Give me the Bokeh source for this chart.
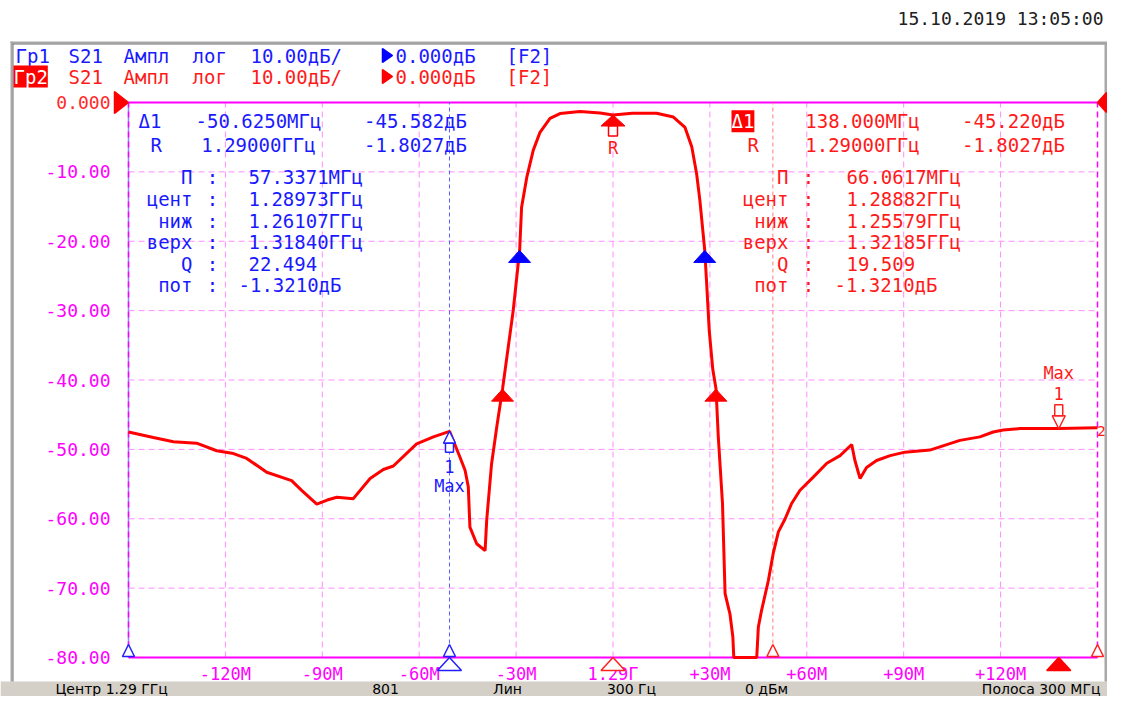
from bokeh.plotting import figure
from bokeh.models import Range1d, Label, BoxAnnotation, PolyAnnotation
from bokeh.core.properties import value
from bokeh.embed import file_html
from bokeh.resources import INLINE

# ---------------- data (offset from 1.29 GHz, MHz ; S21 dB) ----------------
freq_offset_mhz = [
    -150.0, -142.3, -136.1, -128.9, -122.7, -117.5, -113.4, -107.2, -99.5, -96.4,
    -91.7, -88.5, -85.5, -80.4, -75.2, -71.1, -68.0, -60.8, -55.6, -50.6,
    -47.4, -45.8, -44.8, -44.3, -42.2, -39.6, -39.1, -37.6, -36.0, -34.2,
    -30.9, -28.9, -28.3, -26.7, -24.7, -22.6, -19.5, -16.4, -10.2, -4.0,
    0.0, 6.0, 13.5, 18.7, 22.3, 24.4, 25.9, 26.9, 28.4, 29.0,
    29.8, 30.9, 31.9, 32.6, 33.9, 34.7, 36.2, 37.1, 37.4, 44.5,
    45.0, 46.0, 48.1, 49.6, 51.2, 53.3, 55.3, 57.9, 62.0, 66.2,
    70.3, 73.9, 74.9, 76.5, 78.5, 81.6, 85.8, 90.4, 98.1, 107.4,
    113.6, 117.7, 120.8, 126.0, 138.0, 150.0,
]
s21_db = [
    -47.5, -48.3, -48.9, -49.1, -50.2, -50.6, -51.3, -53.3, -54.5, -55.9,
    -57.9, -57.3, -56.9, -57.1, -54.2, -52.9, -52.4, -49.2, -48.2, -47.4,
    -51.1, -53.0, -55.4, -61.2, -63.6, -64.6, -60.2, -52.1, -46.8, -41.3,
    -30.0, -21.3, -15.1, -10.8, -6.9, -4.3, -2.3, -1.6, -1.3, -1.5,
    -1.8, -1.55, -1.55, -2.1, -3.6, -6.4, -10.3, -14.1, -21.3, -26.1,
    -32.9, -38.5, -41.3, -48.2, -57.8, -70.8, -73.7, -77.0, -80.0, -80.0,
    -75.6, -73.2, -68.9, -65.0, -61.9, -60.0, -57.8, -55.9, -54.0, -52.0,
    -50.9, -49.3, -51.6, -54.2, -52.6, -51.6, -50.9, -50.4, -50.1, -48.7,
    -48.2, -47.5, -47.2, -47.0, -47.0, -46.9,
]

y_ticks = [0, -10, -20, -30, -40, -50, -60, -70, -80]
y_tick_labels = ["0.000", "-10.00", "-20.00", "-30.00", "-40.00", "-50.00", "-60.00", "-70.00", "-80.00"]
x_ticks = [-120, -90, -60, -30, 0, 30, 60, 90, 120]
x_tick_labels = ["-120M", "-90M", "-60M", "-30M", "1.29Г", "+30M", "+60M", "+90M", "+120M"]
x_grid = [-120, -90, -60, -30, 0, 30, 60, 90, 120]
y_grid = [-10, -20, -30, -40, -50, -60, -70]
x_min, x_max, y_min, y_max = -150.0, 150.0, -80.0, 0.0

ref_f, ref_db = 0.0, -1.8027
m1_blue_f, m1_blue_db = -50.625, -47.3847
m1_red_f, m1_red_db = 138.0, -47.0227
bw_blue_f, bw_blue_db = [-28.93, 28.40], -21.321
bw_red_f, bw_red_db = [-34.21, 31.85], -41.321
red_line_f = 49.5
axis_marks_blue_f = [-150.0, -50.625]
axis_marks_red_f = [49.5, 150.0]

# measurement read-outs
blue_rows = [("Δ1", "-50.6250МГц", "-45.582дБ"), ("R", "1.29000ГГц", "-1.8027дБ")]
red_rows = [("Δ1", "138.000МГц", "-45.220дБ"), ("R", "1.29000ГГц", "-1.8027дБ")]
stat_names = ["П", "цент", "ниж", "верх", "Q", "пот"]
blue_stats = ["57.3371МГц", "1.28973ГГц", "1.26107ГГц", "1.31840ГГц", "22.494", "-1.3210дБ"]
red_stats = ["66.0617МГц", "1.28882ГГц", "1.25579ГГц", "1.32185ГГц", "19.509", "-1.3210дБ"]
status_texts = ["Центр 1.29 ГГц", "801", "Лин", "300 Гц", "0 дБм", "Полоса 300 МГц"]

# ---------------- layout: plot area occupies px 128..1097 x 102..657 ----------------
W, H = 1107, 696
GX0, GX1, GY0, GY1 = 128, 1097, 102, 657
PXF = (GX1 - GX0) / (x_max - x_min)   # px per MHz
PXD = (GY1 - GY0) / (y_max - y_min)   # px per dB


def fx(X):
    return x_min + (X - GX0) / PXF


def fy(Y):
    return y_max - (Y - GY0) / PXD


BLUE = "#1a1aff"
RED = "#ff1a1a"
MAG = "#ff00ff"
GRID = "#ff8cff"
MONO = "DejaVu Sans Mono"

p = figure(width=W, height=H, x_range=Range1d(fx(0), fx(W)), y_range=Range1d(fy(H), fy(0)),
           output_backend="svg", toolbar_location=None, title=None,
           x_axis_location=None, y_axis_location=None, min_border=0,
           background_fill_color="white", border_fill_color="white", outline_line_color=None)
p.xgrid.visible = False
p.ygrid.visible = False


def S(X, Y):
    return X, H - Y


def box(X1, Y1, X2, Y2, color):
    l_, t_ = S(X1, Y1)
    r_, b_ = S(X2, Y2)
    p.add_layout(BoxAnnotation(left=l_, right=r_, top=t_, bottom=b_, left_units="screen",
                               right_units="screen", top_units="screen", bottom_units="screen",
                               fill_color=color, fill_alpha=1.0, line_color=None, level="underlay"))


def poly(pts, color, fill=None):
    p.add_layout(PolyAnnotation(xs=[S(x, y)[0] for x, y in pts], ys=[S(x, y)[1] for x, y in pts],
                                xs_units="screen", ys_units="screen",
                                fill_color=fill if fill else "white", fill_alpha=1.0 if fill else 0.0,
                                line_color=color, line_alpha=1.0, line_width=1.5))


def lab(X, Y, text, color, align="left", size="19px", font=MONO, bg=None):
    sx, sy = S(X, Y)
    kw = {}
    if bg is not None:
        kw = dict(background_fill_color=bg, background_fill_alpha=1.0)
    p.add_layout(Label(x=sx, y=sy, x_units="screen", y_units="screen", text=text, text_color=color,
                       text_align=align, text_baseline="middle", text_font=font, text_font_size=size, **kw))


# window frame and status bar
box(0, 681, W, H, "#d4d0c8")
box(10, 41, W, 43, "#a8a8a8")
box(12, 43, W, 44, "#707070")
box(10, 41, 12, 681, "#a8a8a8")
box(12, 43, 13, 681, "#707070")
box(1104, 43, 1107, 681, "#a8a8a8")

# grid
p.segment(x0=x_grid, y0=[y_min] * len(x_grid), x1=x_grid, y1=[y_max] * len(x_grid),
          line_color=GRID, line_width=1, line_dash="6 4")
p.segment(x0=[x_min] * len(y_grid), y0=y_grid, x1=[x_max] * len(y_grid), y1=y_grid,
          line_color=GRID, line_width=1, line_dash="6 4")
# borders
p.segment(x0=[x_min], y0=[y_min], x1=[x_min], y1=[y_max], line_color="#8c8cff", line_width=1.5)
p.segment(x0=[x_min, x_max], y0=[y_min, y_min], x1=[x_min, x_max], y1=[y_max, y_max],
          line_color=MAG, line_width=1.5, line_dash="6 4")
p.segment(x0=[x_min, x_min], y0=[y_max, y_min], x1=[x_max, x_max], y1=[y_max, y_min],
          line_color=MAG, line_width=2)

# marker lines
p.segment(x0=[m1_blue_f], y0=[y_min], x1=[m1_blue_f], y1=[y_max], line_color="#5c5cff",
          line_width=1, line_dash="4 3")
p.segment(x0=[red_line_f], y0=[y_min], x1=[red_line_f], y1=[y_max], line_color="#ff7a7a",
          line_width=1, line_dash="4 3")

# tick labels through the scales
p.text(x=x_ticks, y=[fy(673)] * len(x_ticks), text=x_tick_labels, text_align="center",
       text_baseline="middle", text_font=value(MONO), text_font_size=value("17px"), text_color=MAG)
p.text(x=[fx(110)] * len(y_ticks), y=y_ticks, text=y_tick_labels, text_align="right",
       text_baseline="middle", text_font=value(MONO), text_font_size=value("18px"),
       text_color=["#ff2a2a" if t == 0 else MAG for t in y_ticks])

# trace
p.line(freq_offset_mhz, s21_db, line_color="#ff0000", line_width=3)


def tri(fx_, fy_, w, h, up=True):
    by = fy_ - h / PXD if up else fy_ + h / PXD
    return [fx_ - w / 2 / PXF, fx_, fx_ + w / 2 / PXF], [by, fy_, by]


def rect(fx_, fy_, w, top_px, bot_px):
    y1 = fy_ - top_px / PXD
    y2 = fy_ - bot_px / PXD
    x1, x2 = fx_ - w / 2 / PXF, fx_ + w / 2 / PXF
    return [x1, x2, x2, x1], [y1, y1, y2, y2]


# bandwidth markers
for fl, lvl, col in ((bw_blue_f, bw_blue_db, "#0000ff"), (bw_red_f, bw_red_db, "#ff0000")):
    xs, ys = [], []
    for f in fl:
        a, b = tri(f, lvl, 22, 12)
        xs.append(a)
        ys.append(b)
    p.patches(xs, ys, fill_color=col, line_color=col)

# reference marker R
a, b = tri(ref_f, ref_db, 24, 11)
p.patch(a, b, fill_color="#ff0000", line_color="#ff0000")
a, b = rect(ref_f, ref_db, 9, 11, 21)
p.patch(a, b, fill_color="white", line_color="#ff0000", line_width=1.5)
p.add_layout(Label(x=ref_f, y=ref_db, y_offset=-33, text="R", text_color=RED, text_align="center",
                   text_baseline="middle", text_font=MONO, text_font_size="17px"))

# blue marker 1
a, b = tri(m1_blue_f, m1_blue_db, 12, 12)
p.patch(a, b, fill_color="white", line_color="#2020ff", line_width=1.5)
a, b = rect(m1_blue_f, m1_blue_db, 8, 12, 21)
p.patch(a, b, fill_color="white", line_color="#2020ff", line_width=1.5)
p.add_layout(Label(x=m1_blue_f, y=m1_blue_db, y_offset=-35, text="1", text_color=BLUE, text_align="center",
                   text_baseline="middle", text_font=MONO, text_font_size="17px"))
p.add_layout(Label(x=m1_blue_f, y=m1_blue_db, y_offset=-55, text="Max", text_color=BLUE, text_align="center",
                   text_baseline="middle", text_font=MONO, text_font_size="17px"))

# red marker 1
a, b = tri(m1_red_f, m1_red_db, 13, 13, up=False)
p.patch(a, b, fill_color="white", line_color="#ff2020", line_width=1.5)
a, b = rect(m1_red_f, m1_red_db, 8, -24, -13)
p.patch(a, b, fill_color="white", line_color="#ff2020", line_width=1.5)
p.add_layout(Label(x=m1_red_f, y=m1_red_db, y_offset=35, text="1", text_color=RED, text_align="center",
                   text_baseline="middle", text_font=MONO, text_font_size="17px"))
p.add_layout(Label(x=m1_red_f, y=m1_red_db, y_offset=56, text="Max", text_color=RED, text_align="center",
                   text_baseline="middle", text_font=MONO, text_font_size="17px"))

# stimulus markers on the frequency axis
for fl, col in ((axis_marks_blue_f, "#2020ff"), (axis_marks_red_f, "#ff2020")):
    for f in fl:
        a, b = tri(f, y_min + 13 / PXD, 12, 12)
        p.patch(a, b, fill_color="white", line_color=col, line_width=1.5)
for f, col, fill in ((m1_blue_f, "#2020ff", "white"), (ref_f, "#ff2020", "white"),
                     (m1_red_f, "#ff0000", "#ff0000")):
    a, b = tri(f, y_min, 24, 13)
    p.patch(a, b, fill_color=fill, line_color=col, line_width=1.5)

# date
lab(1103, 18, "15.10.2019 13:05:00", "#202020", align="right", size="18px")

# header lines
for Y, col, tri_col in ((55, BLUE, "#0000ff"), (76, RED, "#ff0000")):
    if col == BLUE:
        lab(15, Y, "Гр1", BLUE)
    else:
        lab(13, Y, "Гр2", "white", bg="#ff0000")
    lab(68, Y, "S21", col)
    lab(123, Y, "Ампл", col)
    lab(192, Y, "лог", col)
    lab(250, Y, "10.00дБ/", col)
    poly([(382, Y - 7), (392, Y), (382, Y + 7)], tri_col, tri_col)
    lab(395, Y, "0.000дБ", col)
    lab(506, Y, "[F2]", col)

# reference level triangles
poly([(114, 91), (128, 102), (114, 113)], "#ff0000", "#ff0000")
poly([(1106, 92), (1097, 102), (1106, 112)], "#ff0000", "#ff0000")
lab(1101, 430, "2", RED, align="center", size="14px")

# measurement blocks
rows = [120.7, 144.0, 176.7, 198.7, 220.0, 241.5, 263.0, 284.0]
lab(138, rows[0], blue_rows[0][0], BLUE)
lab(150, rows[1], blue_rows[1][0], BLUE)
for i in range(2):
    lab(258, rows[i], blue_rows[i][1], BLUE, align="center")
    lab(415, rows[i], blue_rows[i][2], BLUE, align="center")
for i in range(6):
    y = rows[i + 2]
    lab(192, y, stat_names[i], BLUE, align="right")
    lab(212, y, ":", BLUE, align="center")
    neg = blue_stats[i].startswith("-")
    lab(238 if neg else 248, y, blue_stats[i], BLUE)

lab(731, rows[0], red_rows[0][0], "white", bg="#ff0000")
lab(747, rows[1], red_rows[1][0], RED)
for i in range(2):
    lab(862, rows[i], red_rows[i][1], RED, align="center")
    lab(1013, rows[i], red_rows[i][2], RED, align="center")
for i in range(6):
    y = rows[i + 2]
    lab(788, y, stat_names[i], RED, align="right")
    lab(808, y, ":", RED, align="center")
    neg = red_stats[i].startswith("-")
    lab(834 if neg else 846, y, red_stats[i], RED)

# status bar
SB = 688.5
SF = "DejaVu Sans"
for Xs, txt, al in zip([55, 385, 507, 631, 766, 1100], status_texts,
                       ["left", "center", "center", "center", "center", "right"]):
    lab(Xs, SB, txt, "#000000", align=al, size="14px", font=SF)

open("out.html", "w").write(file_html(p, INLINE))
